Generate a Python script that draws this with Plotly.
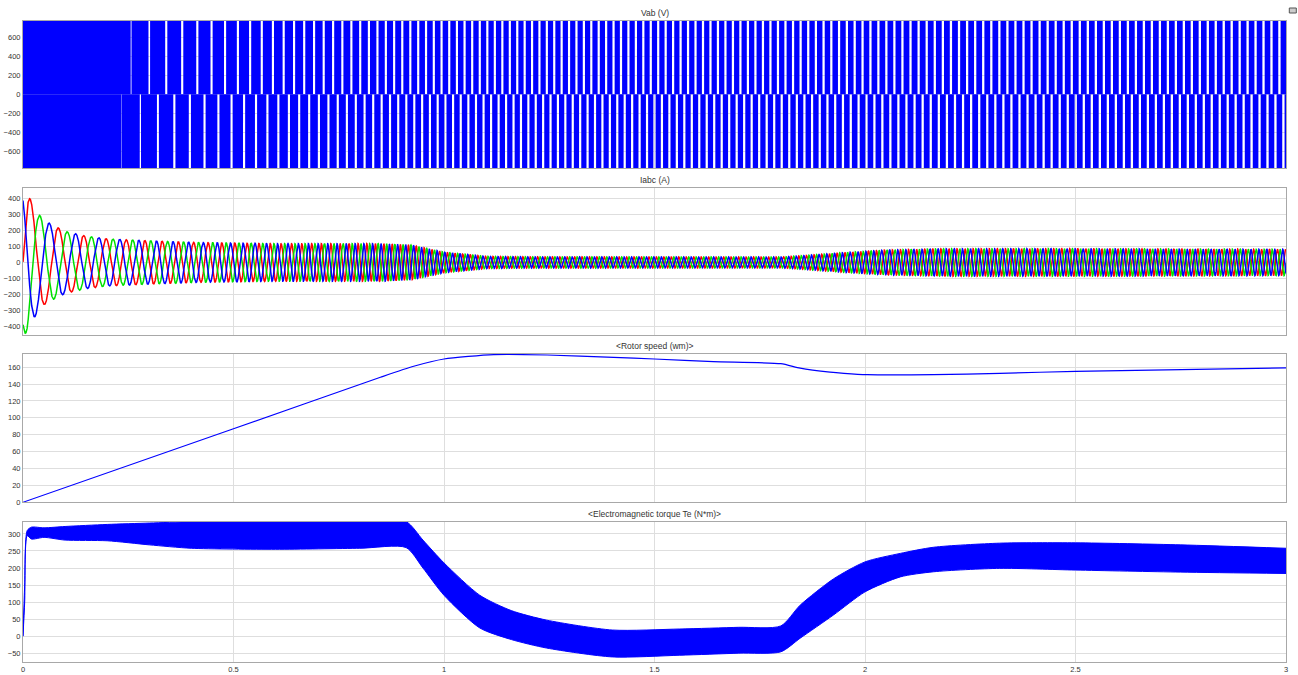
import numpy as np
import plotly.graph_objects as go

# electrical frequency of the drive (Hz), estimated from wave / PWM gap spacing
freq_t = [0, 0.1, 0.25, 0.4, 0.5, 0.62, 0.8, 0.95, 1.2, 1.8, 2.1, 3.0]
freq_hz = [14, 16, 22, 28, 33, 40, 48, 54, 57, 56, 52, 53]

# Vab (V): dc link level and width of the visible white gaps (s)
vab_level = 778
gap_t = [0, 0.21, 0.33, 3.0]
gap_width = [0.0, 0.0, 0.005, 0.0055]

# Iabc (A): peak envelope
iabc_t = [0, 0.01, 0.02, 0.035, 0.05, 0.07, 0.1, 0.15, 0.2, 0.3, 0.42, 0.6, 0.85,
          0.92, 1.0, 1.1, 1.2, 1.8, 1.85, 1.95, 2.05, 2.2, 2.5, 3.0]
iabc_amp = [450, 440, 380, 310, 265, 235, 195, 165, 148, 136, 125, 118, 118,
            110, 65, 38, 35, 34, 42, 62, 78, 86, 86, 82]

# rotor speed wm
speed_t = [0, 0.5, 0.849, 0.928, 1.0, 1.118, 1.245, 1.403, 1.5, 1.64, 1.8, 1.846,
           1.917, 1.95, 2.005, 2.163, 2.32, 2.5, 3.0]
speed_wm = [0, 87, 148, 161, 169.6, 174.7, 174.3, 171.6, 169.6, 166.4, 164, 158.7,
            154, 152.6, 151, 151, 152.6, 155, 159]

# electromagnetic torque Te (N*m): ripple band
te_t = [0, 0.004, 0.01, 0.02, 0.05, 0.1, 0.2, 0.3, 0.4, 0.6, 0.8, 0.91, 0.95, 1.0,
        1.085, 1.16, 1.244, 1.4, 1.56, 1.7, 1.8, 1.846, 1.925, 2.0, 2.084, 2.163,
        2.32, 2.5, 2.75, 3.0]
te_upper = [0, 150, 310, 320, 318, 322, 328, 332, 336, 336, 336, 336, 282, 215,
            120, 75, 47, 18, 21, 26, 30, 91, 168, 218, 243, 261, 273, 274, 268, 258]
te_lower = [0, 100, 295, 285, 290, 282, 280, 268, 258, 255, 258, 260, 200, 120,
            24, -10, -35, -61, -56, -50, -46, -6, 62, 130, 174, 189, 199, 194, 188, 184]

# dense time base for the switching / ac waveforms
t = np.linspace(0, 3, 48001)
dt = t[1] - t[0]
f = np.interp(t, freq_t, freq_hz)
phase = 2 * np.pi * np.cumsum(f) * dt

# Vab: blue everywhere except narrow gaps near the fundamental peaks
half_gap = np.pi * f * np.interp(t, gap_t, gap_width)
d_pi = np.abs(np.mod(phase, 2 * np.pi) - np.pi)
d_0 = np.pi - d_pi
vab_up = np.where(d_pi < half_gap, 0, vab_level)
vab_dn = np.where(d_0 < half_gap, 0, -vab_level)

amp = np.interp(t, iabc_t, iabc_amp)

fig = go.Figure()

fig.add_trace(go.Scatter(x=t, y=vab_up, mode="lines", fill="tozeroy",
                         line=dict(width=0, color="#0000ff"), fillcolor="#0000ff",
                         xaxis="x", yaxis="y"))
fig.add_trace(go.Scatter(x=t, y=vab_dn, mode="lines", fill="tozeroy",
                         line=dict(width=0, color="#0000ff"), fillcolor="#0000ff",
                         xaxis="x", yaxis="y"))

for k, color in enumerate(["#ff0000", "#00e000", "#0000ff"]):
    ik = amp * np.sin(phase - k * 2 * np.pi / 3)
    fig.add_trace(go.Scatter(x=t, y=ik, mode="lines",
                             line=dict(width=1.5, color=color),
                             xaxis="x2", yaxis="y2"))

fig.add_trace(go.Scatter(x=speed_t, y=speed_wm, mode="lines",
                         line=dict(width=1.2, color="#0000ff", shape="spline", smoothing=0.6),
                         xaxis="x3", yaxis="y3"))

fig.add_trace(go.Scatter(x=te_t, y=te_lower, mode="lines",
                         line=dict(width=1, color="#0000ff", shape="spline", smoothing=0.7),
                         xaxis="x4", yaxis="y4"))
fig.add_trace(go.Scatter(x=te_t, y=te_upper, mode="lines", fill="tonexty",
                         line=dict(width=1, color="#0000ff", shape="spline", smoothing=0.7),
                         fillcolor="#0000ff", xaxis="x4", yaxis="y4"))

W, H = 1298, 675
X0, X1 = 22.7, 1285.7
# plot-area top / bottom in pixels for each panel
panels = [(20.5, 168), (187.5, 335), (354, 502.3), (521.7, 661.7)]
y_doms = [[1 - b / H, 1 - a / H] for a, b in panels]

grid = "#dedede"
tick_font = dict(size=7.5, color="#333333", family="Liberation Sans, Arial")


def x_axis(anchor, labels):
    return dict(domain=[0, 1], range=[0, 3], dtick=0.5, anchor=anchor,
                showticklabels=labels, showgrid=True, gridcolor=grid,
                showline=True, mirror=True, linecolor="#a8a8a8", zeroline=False,
                tickfont=tick_font, ticks="", automargin=False)


def y_axis(anchor, dom, rng, vals):
    return dict(domain=dom, range=rng, anchor=anchor, tickvals=vals,
                showgrid=True, gridcolor=grid, showline=True, mirror=True,
                linecolor="#a8a8a8", zeroline=False, tickfont=tick_font, ticks="",
                automargin=False)


titles = ["Vab (V)", "Iabc (A)", "<Rotor speed (wm)>",
          "<Electromagnetic torque Te (N*m)>"]

fig.update_layout(
    width=W,
    height=H,
    margin=dict(l=X0, r=W - X1, t=0, b=0),
    paper_bgcolor="white",
    plot_bgcolor="white",
    showlegend=False,
    hovermode=False,
    font=dict(family="Liberation Sans, Arial", size=8, color="#333333"),
    xaxis=x_axis("y", False),
    xaxis2=x_axis("y2", False),
    xaxis3=x_axis("y3", False),
    xaxis4=x_axis("y4", True),
    yaxis=y_axis("x", y_doms[0], [-778, 778], list(range(-600, 601, 200))),
    yaxis2=y_axis("x2", y_doms[1], [-455, 470], list(range(-400, 401, 100))),
    yaxis3=y_axis("x3", y_doms[2], [0, 175.5], list(range(0, 161, 20))),
    yaxis4=y_axis("x4", y_doms[3], [-75, 336], list(range(-50, 301, 50))),
    annotations=[
        dict(text=title.replace("<", "&lt;").replace(">", "&gt;"), xref="paper", yref="paper",
             x=0.5, y=dom[1], yanchor="bottom", yshift=1,
             showarrow=False, font=dict(size=8.5, color="#333333"))
        for title, dom in zip(titles, y_doms)
    ],
    shapes=[dict(type="rect", xref="paper", yref="paper",
                 x0=(1289 - X0) / (X1 - X0), x1=(1296 - X0) / (X1 - X0),
                 y0=1 - 13 / H, y1=1 - 8 / H,
                 line=dict(color="#555555", width=1), fillcolor="#cccccc")],
)

# drop the browser's default 8 px body margin so the figure sits at the page corner
fig.write_html("out.html", config={"displayModeBar": False},
               post_script="document.body.style.margin='0px';")
